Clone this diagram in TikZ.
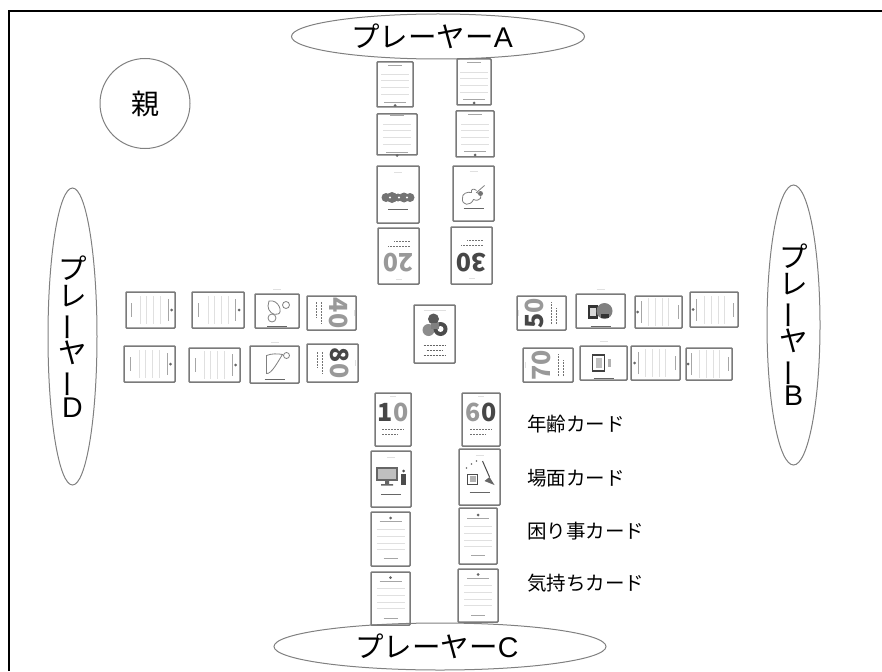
\documentclass[tikz,border=0pt]{standalone}
\usepackage{fontspec}
\setmainfont{Noto Sans CJK JP}
\newfontfamily\letterfont{Liberation Sans}
\newfontfamily\heavyfont{Noto Sans CJK JP Black}
\usetikzlibrary{shapes.geometric}
\newcommand{\digdark}[1]{\textcolor{black!72}{#1}}
\newcommand{\diglight}[1]{\textcolor{black!40}{#1}}
\newcommand{\tatebar}{\rotatebox[origin=c]{90}{ー}}
\tikzset{
  rule/.style={draw=black!35,line width=0.7pt},
  faint/.style={draw=black!12,line width=0.7pt},
  blob/.style={fill=black!55},
  pale/.style={draw=black!50,line width=0.8pt,fill=white},
  linecard/.pic={
    \fill[black!60] (0,-21) circle (1.5);
    \draw[rule] (-11,-17.5) -- (11,-17.5);
    \foreach \yy in {-10,-3,4,10} \draw[faint] (-14,\yy) -- (14,\yy);
    \draw[rule] (-7,19.5) -- (7,19.5);
  },
  scenebase/.pic={
    \draw[faint] (-4,-22) -- (4,-22);
    \draw[rule,black!60,line width=1pt] (-10,15) -- (10,15);
  },
  agecard/.pic={
    \node[transform shape,inner sep=0pt,font=\heavyfont\fontsize{25}{25}\selectfont] (-num) at (0,-7) {\tikzpictext};
    \draw[faint] (-3,-23) -- (3,-23);
    \draw[rule,black!55,dash pattern=on 2pt off 1pt] (-11,10) -- (11,10);
    \draw[rule,black!55,dash pattern=on 2pt off 1pt] (-11,15) -- (5,15);
  },
  sceneblobs/.pic={
    \pic {scenebase};
    \foreach \xx/\sz in {-12/4.5,-6/5,0/4,6/5.5,12/4.5} \fill[blob] (\xx,-3) circle (\sz);
    \foreach \xx in {-9,-1,8} \fill[white] (\xx,-3) circle (1.2);
  },
  scenemap/.pic={
    \pic {scenebase};
    \draw[pale] (-11,8) -- (-3,1) .. controls (-12,-2) and (-6,-9) .. (0,-6) .. controls (3,-13) and (12,-12) .. (11,-5) .. controls (12,0) and (6,2) .. (2,1) .. controls (3,5) and (-1,5) .. (-3,3);
    \fill[blob] (-7,0) circle (2.5);
  },
  scenepc/.pic={
    \pic {scenebase};
    \fill[black!60] (-15,-12) rectangle (7,2);
    \fill[black!25] (-13,-10) rectangle (5,0);
    \fill[black!60] (-6,2) rectangle (-2,5) (-10,5) rectangle (2,6.5);
    \fill[black!70] (10,-5) rectangle (15,6);
    \fill[black!70] (12.5,-8) circle (1.5);
  },
  scenebroom/.pic={
    \pic {scenebase};
    \draw[black!70,line width=1pt] (3,-16) -- (10,0);
    \fill[black!60] (10,0) -- (5,4) -- (15,8) -- cycle;
    \draw[black!70,line width=1pt] (-12,-3) rectangle (-2,7);
    \fill[black!30] (-10,-1) rectangle (-4,5);
    \foreach \xx/\yy in {-8/-13,-3/-16,-13/-9} \fill[black!60] (\xx,\yy) circle (0.8);
  },
  sceneseat/.pic={
    \pic {scenebase};
    \draw[pale] (-6,-9) circle (3.5);
    \draw[pale] (-10,8) .. controls (-12,-2) and (2,-6) .. (3,-1) .. controls (5,4) and (0,9) .. (-5,9) -- cycle;
    \draw[pale] (7,5) circle (4);
  },
  scenecat/.pic={
    \pic {scenebase};
    \draw[pale] (-9,-12) circle (3);
    \draw[pale] (-10,-8) .. controls (-4,-4) and (10,3) .. (9,8) -- (-9,8) .. controls (-11,3) and (-11,-3) .. cycle;
  },
  scenedesk/.pic={
    \pic {scenebase};
    \fill[black!80] (-8,-13) rectangle (6,-3);
    \fill[black!15] (-5,-11) rectangle (3,-5);
    \fill[black!50] (0,4) circle (8);
    \fill[black!80] (-7,0) rectangle (-3,8);
  },
  scenetablet/.pic={
    \pic {scenebase};
    \draw[black!75,line width=1.4pt] (-8,-11) rectangle (8,1);
    \fill[black!25] (-5,-8) rectangle (5,-2);
    \fill[black!30] (-4,4) rectangle (4,7);
  },
  centercard/.pic={
    \draw[faint] (-11,-24) -- (11,-24);
    \fill[black!65] (-1,-15) circle (5.5);
    \fill[black!45] (-6,-4) circle (6);
    \fill[black!70] (6,-5) circle (7);
    \fill[white] (6,-5) circle (3);
    \fill[black!50] (-4,-11) rectangle (4,-5);
    \foreach \yy/\hw in {11/11,16/8,21/11} \draw[black!60,line width=1pt,dash pattern=on 2pt off 1pt] (-\hw,\yy) -- (\hw,\yy);
  },
}
\begin{document}
\begin{tikzpicture}[x=1pt,y=-1pt,
    player/.style={ellipse,draw=black!50,line width=1pt,inner sep=0pt,align=center,font=\fontsize{28.5}{28.5}\selectfont},
    oya/.style={circle,draw=black!50,line width=1pt,inner sep=0pt,minimum size=90pt,font=\fontsize{28}{28}\selectfont},
    cardbox/.style={draw=black!52,line width=1.5pt,rounded corners=0.8pt,inner sep=0pt},
    kindlabel/.style={anchor=west,inner sep=0pt,font=\fontsize{19.5}{20}\selectfont},
    frameline/.style={line width=2pt},
  ]
  \useasboundingbox (0,0) rectangle (882,671);

  \coordinate (framebl) at (9,671);
  \coordinate (frametl) at (9,11.5);
  \coordinate (frametr) at (882,11.5);
  \draw[frameline] (framebl) -- (frametl) -- (frametr);

  \node[oya] (parent) at (145,103.5) {親};

  \node[player,minimum width=293pt,minimum height=45pt] (playerA) at (438,36.5) {プレーヤー{\letterfont A}\hspace{12pt}};
  \node[player,minimum width=332pt,minimum height=47pt] (playerC) at (440,646.5) {プレーヤー{\letterfont C}\hspace{6pt}};
  \node[player,minimum width=53pt,minimum height=280pt] (playerB) at (793.5,325) {プ\\[-1.5pt]レ\\[-1.5pt]\tatebar\\[-1.5pt]ヤ\\[-1.5pt]\tatebar\\[-1.5pt]{\letterfont B}};
  \node[player,minimum width=49pt,minimum height=297pt] (playerD) at (72.5,336.5) {プ\\[-1.5pt]レ\\[-1.5pt]\tatebar\\[-1.5pt]ヤ\\[-1.5pt]\tatebar\\[-1.5pt]{\letterfont D}};

  % cards: name / left / top / right / bottom / rotation / kind / digits
  \foreach \nm/\xa/\ya/\xb/\yb/\rot/\kind/\txt in {
      a1/377/62/413/107/180/linecard/,
      a2/377/114/417/155/180/linecard/,
      a3/377/166/419/223/180/sceneblobs/,
      a4/378/228/419/284/180/agecard/\diglight{2}\diglight{0},
      a5/457/59/491/105/180/linecard/,
      a6/456/111/494/157/180/linecard/,
      a7/453/166/494/221/180/scenemap/,
      a8/451/227/492/284/180/agecard/\digdark{3}\digdark{0},
      b1/517/296/566/330/90/agecard/\digdark{5}\diglight{0},
      b2/576/294/625/328/90/scenedesk/,
      b3/635/296/682/328/90/linecard/,
      b4/690/292/738/327/90/linecard/,
      b5/523/348/573/382/90/agecard/\diglight{7}\diglight{0},
      b6/580/346/627/380/90/scenetablet/,
      b7/631/346/680/380/90/linecard/,
      b8/686/348/732/380/90/linecard/,
      c1/375/393/411/446/0/agecard/\digdark{1}\diglight{0},
      c2/371/451/411/507/0/scenepc/,
      c3/371/512/410/566/0/linecard/,
      c4/371/572/410/625/0/linecard/,
      c5/462/393/500/446/0/agecard/\diglight{6}\digdark{0},
      c6/459/449/500/505/0/scenebroom/,
      c7/459/508/497/564/0/linecard/,
      c8/458/569/498/622/0/linecard/,
      d1/126/292/175/328/-90/linecard/,
      d2/192/292/244/328/-90/linecard/,
      d3/255/294/299/328/-90/sceneseat/,
      d4/307/296/356/330/-90/agecard/\diglight{4}\diglight{0},
      d5/124/346/175/382/-90/linecard/,
      d6/189/348/240/382/-90/linecard/,
      d7/250/346/299/383/-90/scenecat/,
      d8/307/344/358/382/-90/agecard/\digdark{8}\diglight{0},
      deck/414/305/455/363/0/centercard/}
  {
    \pgfmathsetmacro{\cx}{(\xa+\xb)/2}
    \pgfmathsetmacro{\cy}{(\ya+\yb)/2}
    \pgfmathsetmacro{\wc}{\xb-\xa}
    \pgfmathsetmacro{\hc}{\yb-\ya}
    \node[cardbox,minimum width=\wc pt,minimum height=\hc pt] (\nm) at (\cx,\cy) {};
    \pic (\nm art) [rotate=\rot,pic text=\txt] at (\nm.center) {\kind};
  }

  \node[kindlabel] (agelabel) at (527,424) {年齢カード};
  \node[kindlabel] (scenelabel) at (527,478) {場面カード};
  \node[kindlabel] (troublelabel) at (527,531) {困り事カード};
  \node[kindlabel] (feelinglabel) at (527,583) {気持ちカード};
\end{tikzpicture}
\end{document}
